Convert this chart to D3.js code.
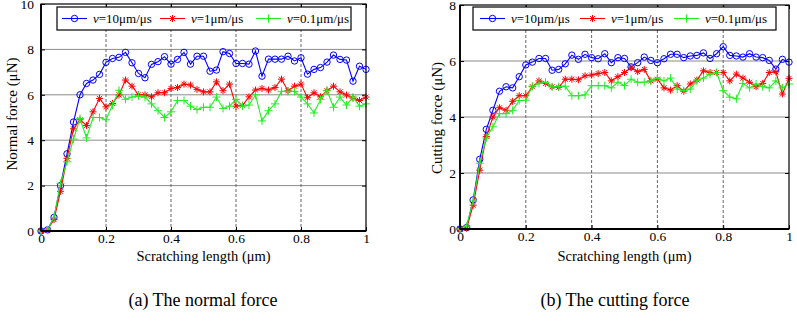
<!DOCTYPE html>
<html>
<head>
<meta charset="utf-8">
<style>
  body { margin: 0; background: #fff; }
  text { font-family: "Liberation Serif", "Times New Roman", serif; fill: #000; }
</style>
</head>
<body>
<script src="https://cdn.jsdelivr.net/npm/d3@7/dist/d3.min.js"></script>
<div id="chart"></div>
<script>
// scratching length (um), sampled every 0.02
var lengths = [0, 0.02, 0.04, 0.06, 0.08, 0.1, 0.12, 0.14, 0.16, 0.18,
  0.2, 0.22, 0.24, 0.26, 0.28, 0.3, 0.32, 0.34, 0.36, 0.38,
  0.4, 0.42, 0.44, 0.46, 0.48, 0.5, 0.52, 0.54, 0.56, 0.58,
  0.6, 0.62, 0.64, 0.66, 0.68, 0.7, 0.72, 0.74, 0.76, 0.78,
  0.8, 0.82, 0.84, 0.86, 0.88, 0.9, 0.92, 0.94, 0.96, 0.98, 1.0];

// (a) normal force, uN
var normalV10 = [0, 0.05, 0.6, 2.0, 3.4, 4.8, 6.0, 6.5, 6.65, 6.9,
  7.43, 7.6, 7.65, 7.87, 7.41, 6.94, 6.75, 7.34, 7.46, 7.68,
  7.35, 7.56, 7.87, 7.35, 7.7, 7.7, 7.04, 7.09, 7.9, 7.82,
  7.38, 7.38, 7.35, 7.93, 6.82, 7.57, 7.57, 7.57, 7.7, 7.49,
  7.63, 6.91, 7.12, 7.2, 7.44, 7.75, 7.56, 7.53, 6.6, 7.26, 7.12];
var normalV1 = [0, 0.05, 0.5, 1.75, 3.2, 4.5, 4.9, 4.65, 5.25, 5.84,
  5.47, 5.62, 5.99, 6.65, 6.38, 6.0, 6.0, 5.91, 6.09, 6.09,
  6.28, 6.32, 6.47, 6.43, 6.24, 6.13, 6.13, 6.57, 6.18, 6.47,
  5.5, 5.54, 5.91, 6.21, 6.28, 6.21, 6.32, 6.69, 6.18, 6.38,
  6.47, 5.87, 6.09, 5.91, 6.18, 6.38, 6.13, 5.99, 5.85, 5.75, 5.9];
var normalV01 = [0, 0.05, 0.6, 2.1, 3.05, 4.05, 4.95, 4.1, 5.0, 5.0,
  4.9, 5.55, 6.2, 5.8, 5.9, 5.95, 5.9, 5.6, 5.3, 5.0,
  5.25, 5.75, 5.75, 5.5, 5.35, 5.45, 5.45, 5.9, 5.4, 5.5,
  5.8, 5.5, 5.55, 6.0, 4.85, 5.3, 5.6, 6.15, 6.15, 6.15,
  5.9, 5.6, 5.2, 5.8, 6.2, 5.45, 5.9, 5.55, 5.9, 5.5, 5.6];

// (b) cutting force, uN
var cuttingV10 = [0, 0.05, 1.04, 2.49, 3.56, 4.24, 4.92, 5.08, 5.04, 5.44,
  5.86, 5.96, 6.09, 6.09, 5.67, 5.7, 5.9, 6.21, 6.06, 6.24,
  6.12, 6.08, 6.26, 5.94, 6.12, 6.09, 5.79, 5.94, 6.14, 6.02,
  5.94, 6.08, 6.24, 6.24, 6.12, 6.18, 6.2, 6.29, 6.09, 6.26,
  6.51, 6.2, 6.18, 6.14, 6.26, 6.14, 6.12, 6.02, 5.71, 6.06, 5.96];
var cuttingV1 = [0, 0.03, 0.85, 2.1, 3.3, 4.0, 4.33, 4.24, 4.56, 4.76,
  4.76, 5.08, 5.29, 5.2, 5.08, 5.06, 5.35, 5.35, 5.33, 5.47,
  5.5, 5.55, 5.59, 5.29, 5.44, 5.59, 5.76, 5.62, 5.7, 5.29,
  5.35, 5.04, 4.96, 5.12, 4.92, 5.18, 5.32, 5.65, 5.59, 5.59,
  5.59, 5.29, 5.53, 5.39, 5.24, 5.08, 5.2, 5.59, 5.61, 4.82, 5.38];
var cuttingV01 = [0, 0.1, 1.0, 2.35, 3.25, 3.65, 4.12, 4.12, 4.24, 4.59,
  4.6, 5.1, 5.2, 5.24, 5.08, 5.08, 5.1, 4.76, 4.76, 4.79,
  5.12, 5.12, 5.12, 5.04, 5.24, 5.12, 5.35, 5.24, 5.24, 5.29,
  5.39, 5.29, 5.39, 5.0, 4.94, 5.0, 5.29, 5.39, 5.53, 5.59,
  4.94, 4.71, 4.65, 5.2, 5.04, 5.18, 5.08, 5.04, 5.29, 5.04, 5.18];

var speedLabels = ["=10\u03bcm/\u03bcs", "=1\u03bcm/\u03bcs", "=0.1\u03bcm/\u03bcs"];
var xTicks = [0, 0.2, 0.4, 0.6, 0.8, 1];
var normalTicks = [0, 2, 4, 6, 8, 10];
var cuttingTicks = [0, 2, 4, 6, 8];

var colors = ["#0000ff", "#ff0000", "#22ee22"];
var markers = ["circle", "asterisk", "plus"];

var svg = d3.select("#chart").append("svg")
    .attr("width", 797)
    .attr("height", 322);

// marker path, centred on 0,0
function markerPath(type) {
  if (type == "asterisk") {
    var s = 3.5, d = 2.5;
    return "M" + (-s) + ",0H" + s + "M0," + (-s) + "V" + s +
      "M" + (-d) + "," + (-d) + "L" + d + "," + d + "M" + (-d) + "," + d + "L" + d + "," + (-d);
  }
  if (type == "plus") {
    var p = 4;
    return "M" + (-p) + ",0H" + p + "M0," + (-p) + "V" + p;
  }
  return d3.arc()({innerRadius: 0, outerRadius: 3.2, startAngle: 0, endAngle: 2 * Math.PI});
}

function drawPanel(opt) {
  var x = d3.scaleLinear().domain([0, 1]).range([opt.left, opt.right]);
  var y = d3.scaleLinear().domain([0, opt.yMax]).range([opt.bottom, opt.top]);
  var g = svg.append("g");

  // horizontal grid
  g.selectAll(".hgrid").data(opt.yTicks.filter(function(t) { return t > 0 && t < opt.yMax; }))
    .enter().append("line")
    .attr("x1", opt.left).attr("x2", opt.right)
    .attr("y1", function(d) { return y(d); }).attr("y2", function(d) { return y(d); })
    .attr("stroke", "#8a8a8a").attr("stroke-width", 1);

  // vertical grid (dashed)
  g.selectAll(".vgrid").data(xTicks.filter(function(t) { return t > 0 && t < 1; }))
    .enter().append("line")
    .attr("x1", function(d) { return x(d); }).attr("x2", function(d) { return x(d); })
    .attr("y1", opt.top).attr("y2", opt.bottom)
    .attr("stroke", "#666").attr("stroke-width", 1)
    .attr("stroke-dasharray", "3,2");

  // axes with inward ticks on all four sides
  var ax = function(axis, tr) {
    var a = g.append("g").attr("transform", tr).call(axis);
    a.select(".domain").remove();
    a.selectAll("text").style("font-family", "Liberation Serif").style("font-size", "13.5px");
    return a;
  };
  ax(d3.axisBottom(x).tickValues(xTicks).tickSizeInner(-4).tickPadding(2).tickFormat(d3.format("~g")),
     "translate(0," + opt.bottom + ")");
  ax(d3.axisTop(x).tickValues(xTicks).tickSizeInner(-4).tickFormat(""),
     "translate(0," + opt.top + ")");
  ax(d3.axisLeft(y).tickValues(opt.yTicks).tickSizeInner(-4).tickPadding(opt.yPad),
     "translate(" + opt.left + ",0)");
  ax(d3.axisRight(y).tickValues(opt.yTicks).tickSizeInner(-4).tickFormat(""),
     "translate(" + opt.right + ",0)");

  // series
  opt.series.forEach(function(vals, i) {
    var pts = lengths.map(function(l, k) { return [l, vals[k]]; });
    g.append("path")
      .datum(pts)
      .attr("fill", "none")
      .attr("stroke", colors[i])
      .attr("stroke-width", 1.1)
      .attr("d", d3.line().x(function(d) { return x(d[0]); }).y(function(d) { return y(d[1]); }));
    g.selectAll(".m" + i).data(pts).enter().append("path")
      .attr("transform", function(d) { return "translate(" + x(d[0]) + "," + y(d[1]) + ")"; })
      .attr("d", markerPath(markers[i]))
      .attr("fill", "none")
      .attr("stroke", colors[i])
      .attr("stroke-width", 1);
  });

  // frame
  g.append("rect")
    .attr("x", opt.left).attr("y", opt.top)
    .attr("width", opt.right - opt.left).attr("height", opt.bottom - opt.top)
    .attr("fill", "none").attr("stroke", "#000").attr("stroke-width", 1.2);
  g.append("line")
    .attr("x1", opt.left).attr("x2", opt.right)
    .attr("y1", opt.bottom).attr("y2", opt.bottom)
    .attr("stroke", "#000").attr("stroke-width", 2.2);
  g.append("line")
    .attr("x1", opt.left).attr("x2", opt.left)
    .attr("y1", opt.top).attr("y2", opt.bottom)
    .attr("stroke", "#000").attr("stroke-width", 1.8);

  // legend
  var lg = g.append("g");
  lg.append("rect")
    .attr("x", opt.legend.x).attr("y", opt.legend.y)
    .attr("width", opt.legend.w).attr("height", 23)
    .attr("fill", "#fff").attr("stroke", "#000").attr("stroke-width", 1.2);
  opt.legend.items.forEach(function(lx, i) {
    var cy = opt.legend.y + 11.5;
    lg.append("line")
      .attr("x1", lx).attr("x2", lx + 25).attr("y1", cy).attr("y2", cy)
      .attr("stroke", colors[i]).attr("stroke-width", 1.1);
    lg.append("path")
      .attr("transform", "translate(" + (lx + 12.5) + "," + cy + ")")
      .attr("d", markerPath(markers[i]))
      .attr("fill", "none").attr("stroke", colors[i]);
    var t = lg.append("text")
      .attr("x", lx + 31).attr("y", cy + 4.5)
      .style("font-size", "13px");
    t.append("tspan").style("font-style", "italic").text("v");
    t.append("tspan").text(speedLabels[i]);
  });

  // axis titles
  g.append("text")
    .attr("x", (opt.left + opt.right) / 2).attr("y", 261)
    .attr("text-anchor", "middle")
    .style("font-size", "14.5px")
    .text("Scratching length (\u03bcm)");
  g.append("text")
    .attr("transform", "translate(" + opt.yTitleX + "," + opt.yTitleY + ") rotate(-90)")
    .attr("text-anchor", "middle")
    .style("font-size", "15px")
    .text(opt.yTitle);

  // caption
  g.append("text")
    .attr("x", opt.captionX).attr("y", 306)
    .attr("text-anchor", "middle")
    .style("font-size", "18px")
    .text(opt.caption);
}

drawPanel({
  left: 41, right: 366, top: 4, bottom: 231, yMax: 10, yPad: 7,
  yTicks: normalTicks,
  series: [normalV10, normalV1, normalV01],
  yTitle: "Normal force (\u03bcN)", yTitleX: 17, yTitleY: 114,
  caption: "(a) The normal force", captionX: 203,
  legend: {x: 57, y: 7, w: 294, items: [62, 160, 256]}
});

drawPanel({
  left: 460, right: 789, top: 5, bottom: 229, yMax: 8, yPad: 4,
  yTicks: cuttingTicks,
  series: [cuttingV10, cuttingV1, cuttingV01],
  yTitle: "Cutting force (\u03bcN)", yTitleX: 442, yTitleY: 118,
  caption: "(b) The cutting force", captionX: 615,
  legend: {x: 473, y: 7, w: 303, items: [480, 580, 674]}
});
</script>
</body>
</html>
